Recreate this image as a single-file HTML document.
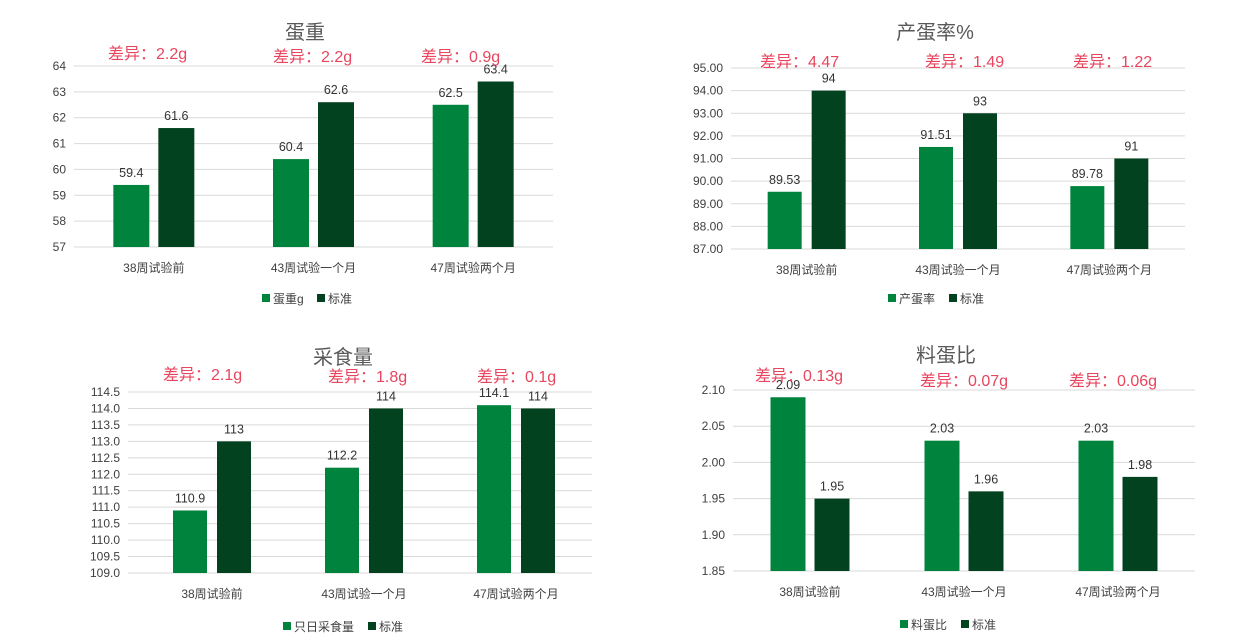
<!DOCTYPE html>
<html><head><meta charset="utf-8"><style>
body{margin:0;background:#fff;width:1244px;height:642px;overflow:hidden}
svg{display:block}
text{font-family:"Liberation Sans","Noto Sans CJK SC",sans-serif}
</style></head><body>
<svg id="s" width="1244" height="642"></svg>
<script>
const categories=["38周试验前","43周试验一个月","47周试验两个月"];
const eggWeightValues=[59.4,60.4,62.5];
const eggWeightStd=[61.6,62.6,63.4];
const eggWeightTicks=[57,58,59,60,61,62,63,64];
const eggWeightDiffs=["差异：2.2g","差异：2.2g","差异：0.9g"];
const layRateValues=[89.53,91.51,89.78];
const layRateStd=[94,93,91];
const layRateTicks=[87,88,89,90,91,92,93,94,95];
const layRateDiffs=["差异：4.47","差异：1.49","差异：1.22"];
const feedValues=[110.9,112.2,114.1];
const feedStd=[113,114,114];
const feedTicks=[109,109.5,110,110.5,111,111.5,112,112.5,113,113.5,114,114.5];
const feedDiffs=["差异：2.1g","差异：1.8g","差异：0.1g"];
const ratioValues=[2.09,2.03,2.03];
const ratioStd=[1.95,1.96,1.98];
const ratioTicks=[1.85,1.90,1.95,2.00,2.05,2.10];
const ratioDiffs=["差异：0.13g","差异：0.07g","差异：0.06g"];

const NS="http://www.w3.org/2000/svg";
const svg=document.getElementById('s');
function mk(tag,attrs,parent,txt){const e=document.createElementNS(NS,tag);for(const k in attrs)e.setAttribute(k,attrs[k]);if(txt!==undefined)e.textContent=txt;(parent||svg).appendChild(e);return e;}

function chart(c){
  const g=mk('g',{});
  
  
  const min=c.ticks[0],max=c.ticks[c.ticks.length-1];
  const y=v=>c.bottom-(v-min)/(max-min)*(c.bottom-c.top);
  const t=mk('text',{x:c.titleX,y:c.titleY,'font-size':20,fill:'#595959','text-anchor':'middle'},g,c.title);
  
  
  c.ticks.forEach(v=>{
    const l=mk('line',{x1:c.x0,x2:c.x1,y1:y(v),y2:y(v),stroke:'#d9d9d9','stroke-width':1},g);
    
    
    const tx=mk('text',{x:c.x0-8,y:y(v)+4,'font-size':12,fill:'#404040','text-anchor':'end'},g,v.toFixed(c.dec));
    
    
  });
  const bx0=c.bx0||c.x0;
  const gw=(c.x1-bx0)/categories.length;
  categories.forEach((cat,i)=>{
    const cx=bx0+gw*(i+0.5);
    [[c.vals[i],'#00843d',-c.bw-c.gap/2],[c.std[i],'#03421f',c.gap/2]].forEach(([v,col,off],k)=>{
      const r=mk('rect',{x:cx+off,y:y(v),width:c.bw,height:c.bottom-y(v),fill:col},g);
      
      
      const lb=mk('text',{x:cx+off+c.bw/2,y:y(v)-8,'font-size':12.5,fill:'#333','text-anchor':'middle'},g,String(v));
      
      
    });
    const cl=mk('text',{x:cx,y:c.bottom+25,'font-size':12,fill:'#404040','text-anchor':'middle'},g,cat);
    
    
    const d=mk('text',{x:c.diffX[i],y:c.diffY[i],'font-size':16,fill:'#e8455e'},g,c.diffs[i]);
    
    
  });
  const lx=c.legX,ly=c.legY;
  const lg=mk('g',{},g);
  
  
  mk('rect',{x:lx,y:ly-9,width:8,height:8,fill:'#00843d'},lg);
  mk('text',{x:lx+11,y:ly,'font-size':12,fill:'#404040'},lg,c.leg);
  const l2=lx+11+c.legW;
  mk('rect',{x:l2,y:ly-9,width:8,height:8,fill:'#03421f'},lg);
  mk('text',{x:l2+11,y:ly,'font-size':12,fill:'#404040'},lg,'标准');
}
chart({name:'egg-weight-chart',title:'蛋重',titleX:305,titleY:39,x0:74,x1:553,top:66,bottom:247,ticks:eggWeightTicks,dec:0,vals:eggWeightValues,std:eggWeightStd,bw:36,gap:9,diffs:eggWeightDiffs,diffX:[108,273,421],diffY:[59,62,62],leg:'蛋重g',legW:44,legX:262,legY:303});
chart({name:'laying-rate-chart',title:'产蛋率%',titleX:935,titleY:39,x0:731,x1:1185,top:68,bottom:249,ticks:layRateTicks,dec:2,vals:layRateValues,std:layRateStd,bw:34,gap:10,diffs:layRateDiffs,diffX:[760,925,1073],diffY:[67,67,67],leg:'产蛋率',legW:50,legX:888,legY:303});
chart({name:'feed-intake-chart',title:'采食量',titleX:343,titleY:364,x0:128,bx0:136,x1:592,top:392,bottom:573,ticks:feedTicks,dec:1,vals:feedValues,std:feedStd,bw:34,gap:10,diffs:feedDiffs,diffX:[163,328,477],diffY:[380,382,382],leg:'只日采食量',legW:74,legX:283,legY:631});
chart({name:'feed-egg-ratio-chart',title:'料蛋比',titleX:946,titleY:362,x0:733,x1:1195,top:390,bottom:571,ticks:ratioTicks,dec:2,vals:ratioValues,std:ratioStd,bw:35,gap:9,diffs:ratioDiffs,diffX:[755,920,1069],diffY:[381,386,386],leg:'料蛋比',legW:50,legX:900,legY:629});
</script>
</body></html>
